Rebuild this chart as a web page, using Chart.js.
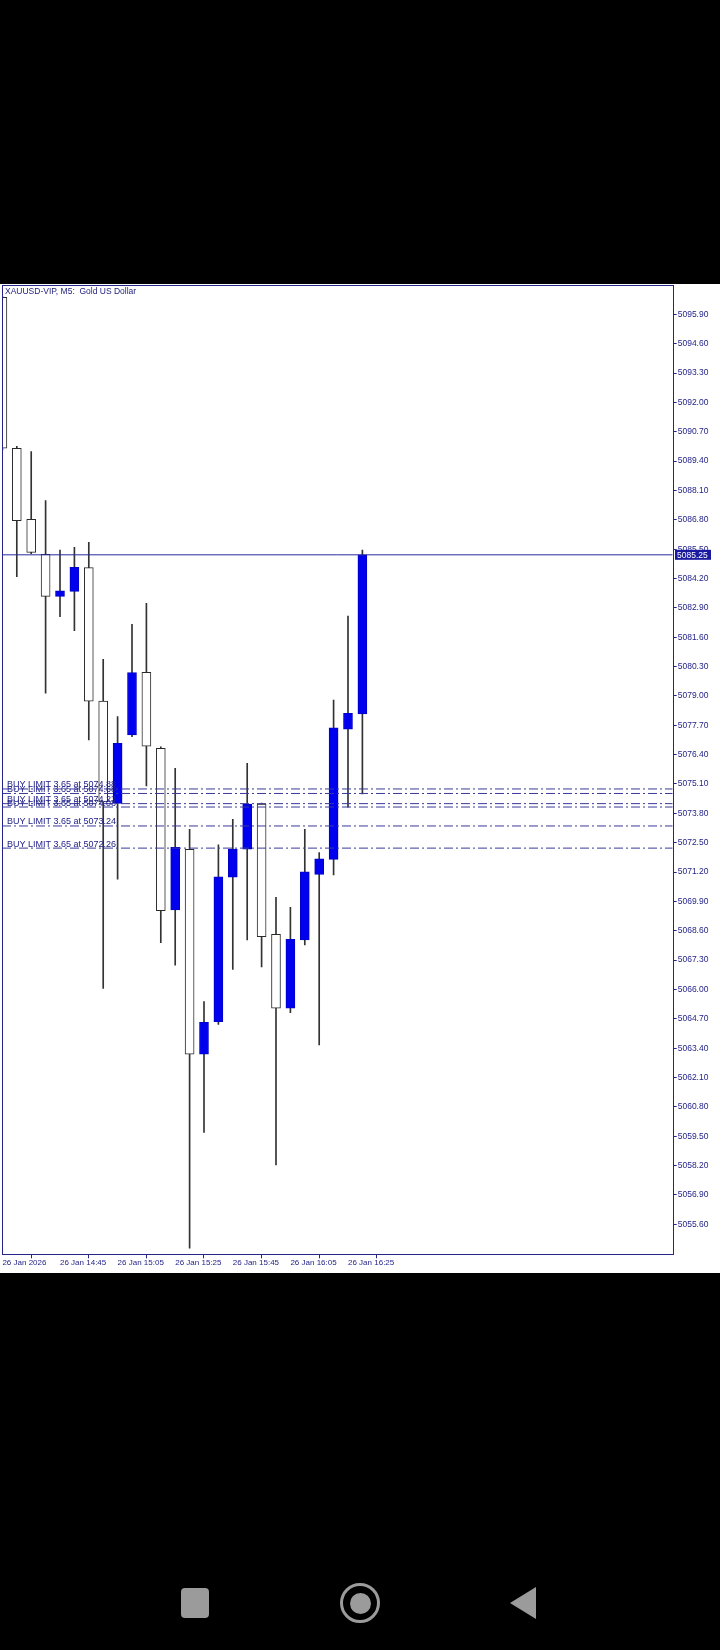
<!DOCTYPE html>
<html><head><meta charset="utf-8">
<script src="https://cdn.jsdelivr.net/npm/chart.js@4.4.1/dist/chart.umd.min.js"></script>
<style>
html,body{margin:0;padding:0;background:#000;width:720px;height:1650px;overflow:hidden;}
#panel{position:absolute;left:0;top:284px;width:720px;height:989px;background:#fff;}
canvas{display:block}
#sq{position:absolute;left:181px;top:1588px;width:28px;height:30px;border-radius:4px;background:#9b9b9b}
#ring{position:absolute;left:340px;top:1583px;width:40px;height:40px;border:3px solid #9b9b9b;border-radius:50%;box-sizing:border-box}
#dot{position:absolute;left:349.5px;top:1592.5px;width:21px;height:21px;border-radius:50%;background:#9b9b9b}
#tri{position:absolute;left:510px;top:1587px;width:0;height:0;border-top:16px solid transparent;border-bottom:16px solid transparent;border-right:26px solid #9b9b9b}
</style></head><body>
<div id="panel"><canvas id="c" width="720" height="989"></canvas></div>
<div id="sq"></div><div id="ring"></div><div id="dot"></div><div id="tri"></div>
<script>
const chartTitle = 'XAUUSD-VIP, M5:  Gold US Dollar';
const candleTimes = ['14:25','14:30','14:35','14:40','14:45','14:50','14:55','15:00','15:05','15:10','15:15','15:20','15:25','15:30','15:35','15:40','15:45','15:50','15:55','16:00','16:05','16:10','16:15','16:20','16:25','16:30'];
const opens  = [5096.65,5089.97,5086.82,5085.27,5083.41,5083.63,5084.68,5078.77,5074.24,5077.27,5080.05,5076.68,5069.52,5072.21,5063.13,5064.57,5070.97,5072.21,5074.21,5068.44,5065.17,5068.19,5071.10,5071.76,5077.53,5078.20];
const highs  = [5096.70,5090.05,5089.82,5087.65,5085.46,5085.58,5085.80,5080.62,5078.08,5082.17,5083.10,5076.75,5075.79,5073.09,5065.46,5072.40,5073.54,5076.02,5074.25,5070.08,5069.64,5073.09,5072.06,5078.82,5082.54,5085.46];
const lows   = [5089.90,5084.28,5085.30,5079.12,5082.51,5081.89,5077.05,5066.05,5070.88,5077.20,5075.01,5068.07,5067.08,5054.54,5059.67,5064.45,5066.89,5068.19,5067.00,5058.23,5064.97,5067.97,5063.54,5071.07,5074.07,5074.66];
const closes = [5089.97,5086.76,5085.36,5083.41,5083.65,5084.70,5078.77,5074.31,5076.90,5080.03,5076.78,5069.49,5072.30,5063.13,5064.54,5070.99,5072.22,5074.21,5068.34,5065.17,5068.22,5071.21,5071.78,5077.59,5078.23,5085.25];
const xTickIndex  = [0,4,8,12,16,20,24];
const xTickLabels = ['26 Jan 2026','26 Jan 14:45','26 Jan 15:05','26 Jan 15:25','26 Jan 15:45','26 Jan 16:05','26 Jan 16:25'];
const yTickValues = [5095.90,5094.60,5093.30,5092.00,5090.70,5089.40,5088.10,5086.80,5085.50,5084.20,5082.90,5081.60,5080.30,5079.00,5077.70,5076.40,5075.10,5073.80,5072.50,5071.20,5069.90,5068.60,5067.30,5066.00,5064.70,5063.40,5062.10,5060.80,5059.50,5058.20,5056.90,5055.60];
const orderPrices = [5074.88,5074.68,5074.23,5074.08,5073.24,5072.26];
const orderLots = 3.65;
const currentPrice = 5085.25;

const X_MIN = -0.028, X_MAX = 46.55, Y_MIN = 5054.27, Y_MAX = 5097.20;
const NAVY = '#24248a';
const FONT = '"Liberation Sans", Arial, sans-serif';

const isBull = opens.map((o,i)=>closes[i] >= o);

const datasets = [
  {
    type:'bar', label:'body', order:1, grouped:false,
    data: opens.map((o,i)=>({x:i, y:[o, closes[i]]})),
    backgroundColor: isBull.map(b=>b?'#0000ee':'#ffffff'),
    borderColor: isBull.map(b=>b?'#0000c8':'#2a2a2a'),
    borderWidth:1, borderSkipped:false, barThickness:9
  },
  {
    type:'bar', label:'wick', order:2, grouped:false,
    data: lows.map((l,i)=>({x:i, y:[l, highs[i]]})),
    backgroundColor:'#333333', borderWidth:0, barThickness:1
  },
  ...orderPrices.map(p=>({
    type:'line', label:'order', order:0,
    data:[{x:X_MIN,y:p},{x:X_MAX,y:p}],
    borderColor:'#3a3a9c', borderWidth:1, borderDash:[9,3,2,3], pointRadius:0, fill:false
  })),
  {
    type:'line', label:'price', order:0,
    data:[{x:X_MIN,y:currentPrice},{x:X_MAX,y:currentPrice}],
    borderColor:'#2a2aa0', borderWidth:1, pointRadius:0, fill:false
  }
];

const decor = {
  id:'decor',
  afterDatasetsDraw(chart){
    const ctx = chart.ctx, y = chart.scales.y, a = chart.chartArea;
    ctx.save();
    ctx.font = '9px ' + FONT;
    ctx.fillStyle = '#22228a';
    ctx.textBaseline = 'alphabetic';
    ctx.textAlign = 'left';
    orderPrices.forEach(p=>{
      const py = y.getPixelForValue(p);
      ctx.fillText('BUY LIMIT ' + orderLots.toFixed(2) + ' at ' + p.toFixed(2), 7, py - 1.5);
    });
    ctx.restore();
  },
  afterDraw(chart){
    const ctx = chart.ctx, y = chart.scales.y, a = chart.chartArea;
    ctx.save();
    // frame
    ctx.strokeStyle = NAVY; ctx.lineWidth = 1;
    ctx.strokeRect(Math.round(a.left)+0.5, Math.round(a.top)+0.5, Math.round(a.right)-Math.round(a.left), Math.round(a.bottom)-Math.round(a.top));
    // title
    ctx.font = '8.5px ' + FONT; ctx.fillStyle = '#1c1c7c';
    ctx.textBaseline = 'middle'; ctx.textAlign = 'left';
    ctx.fillText(chartTitle, 5, 8);
    // current price tag
    const py = y.getPixelForValue(currentPrice);
    ctx.fillStyle = '#1a1aa0';
    ctx.fillRect(675, py - 5, 36, 10);
    ctx.fillStyle = '#ffffff';
    ctx.font = '8.5px ' + FONT;
    ctx.fillText(currentPrice.toFixed(2), 677, py + 0.5);
    ctx.restore();
  }
};

new Chart(document.getElementById('c'), {
  type:'bar',
  data:{ datasets },
  options:{
    responsive:false, animation:false, events:[],
    layout:{ padding:{left:2, top:1, right:0, bottom:0} },
    plugins:{ legend:{display:false}, tooltip:{enabled:false}, title:{display:false} },
    scales:{
      x:{
        type:'linear', position:'bottom', min:X_MIN, max:X_MAX, offset:false,
        afterBuildTicks(s){ s.ticks = xTickIndex.map(v=>({value:v})); },
        afterFit(s){ s.height = 18.7; s.paddingLeft = 0; s.paddingRight = 0; },
        ticks:{
          autoSkip:false, maxRotation:0, minRotation:0, align:'start', padding:0,
          color:'#24248a', font:{family:FONT, size:8},
          callback(v){ const k = xTickIndex.indexOf(v); return k>=0 ? xTickLabels[k] : ''; }
        },
        grid:{ display:true, drawOnChartArea:false, drawTicks:true, tickLength:4, color:NAVY },
        border:{ display:false }
      },
      y:{
        type:'linear', position:'right', min:Y_MIN, max:Y_MAX,
        afterBuildTicks(s){ s.ticks = yTickValues.map(v=>({value:v})); },
        afterFit(s){ s.width = 47.3; s.paddingTop = 0; s.paddingBottom = 0; },
        ticks:{
          autoSkip:false, padding:1, color:'#24248a', font:{family:FONT, size:8.5},
          callback(v){ return Number(v).toFixed(2); }
        },
        grid:{ display:true, drawOnChartArea:false, drawTicks:true, tickLength:4, color:NAVY },
        border:{ display:false }
      }
    }
  },
  plugins:[decor]
});
</script>
</body></html>
